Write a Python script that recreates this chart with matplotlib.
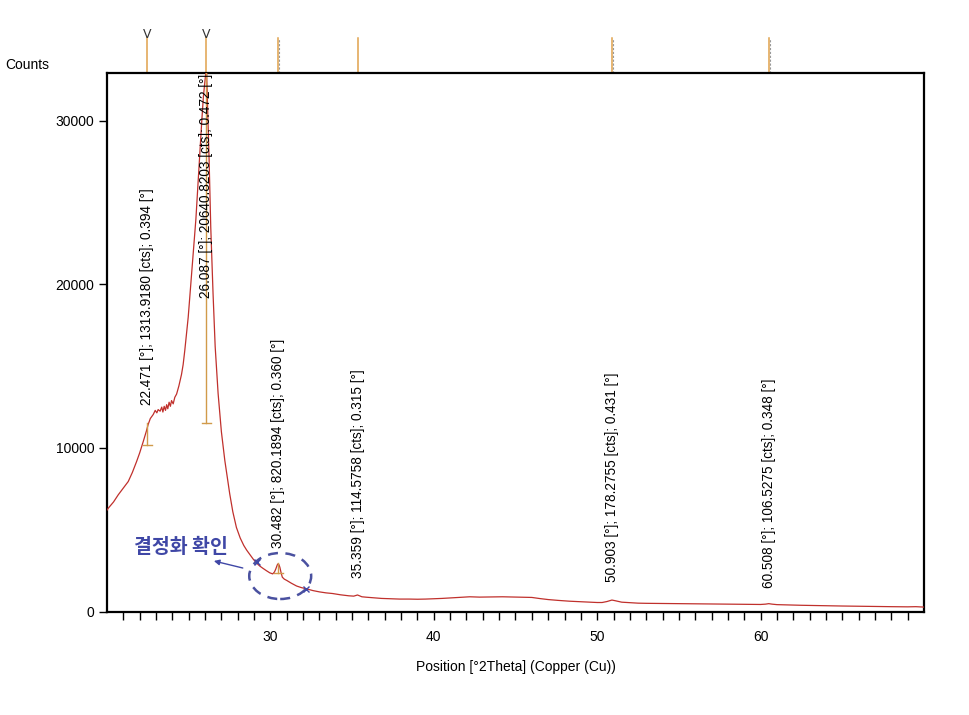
import matplotlib
matplotlib.use("Agg")
import matplotlib.pyplot as plt
from matplotlib import font_manager
from matplotlib.patches import Ellipse
import matplotlib.transforms as mtransforms

# ---------------- data ----------------
two_theta = [20.00, 20.08, 20.40, 20.69, 21.00, 21.30, 21.55, 21.81, 22.00, 22.22,
             22.40, 22.52, 22.65, 22.83, 22.95, 23.05, 23.13, 23.25, 23.35, 23.42,
             23.50, 23.58, 23.65, 23.72, 23.80, 23.88, 23.95, 24.05, 24.15, 24.26,
             24.40, 24.56, 24.66, 24.76, 24.87, 24.97, 25.08, 25.19, 25.31, 25.44,
             25.56, 25.68, 25.80, 25.90, 26.02, 26.09, 26.17, 26.25, 26.35, 26.49,
             26.62, 26.80, 27.00, 27.21, 27.35, 27.51, 27.70, 27.92, 28.15, 28.37,
             28.55, 28.73, 28.95, 29.16, 29.35, 29.53, 29.75, 29.96, 30.14, 30.25,
             30.33, 30.42, 30.47, 30.53, 30.58, 30.66, 30.73, 30.85, 31.00, 31.28,
             31.60, 31.90, 32.20, 32.60, 33.00, 33.40, 33.80, 34.30, 34.80, 35.10,
             35.33, 35.45, 35.60, 35.86, 36.30, 36.80, 37.30, 37.90, 38.50, 39.00,
             39.50, 40.00, 40.50, 41.00, 41.60, 42.20, 42.80, 43.50, 44.20, 45.00,
             45.50, 46.00, 46.50, 47.00, 47.60, 48.30, 48.90, 49.50, 50.00, 50.30,
             50.60, 50.90, 51.10, 51.50, 52.00, 52.50, 53.00, 54.00, 55.00, 56.00,
             57.00, 58.00, 59.00, 60.00, 60.30, 60.50, 60.70, 61.00, 62.00, 62.50,
             63.00, 64.00, 65.00, 66.00, 67.00, 68.00, 69.00, 69.50, 70.00]
counts = [6200, 6320, 6700, 7140, 7550, 7950, 8500, 9170, 9700, 10400,
          11000, 11440, 11800, 12050, 12300, 12150, 12350, 12250, 12500, 12200,
          12550, 12300, 12650, 12400, 12800, 12550, 12900, 12700, 13100, 13300,
          13800, 14500, 15100, 15960, 17000, 18000, 19400, 20800, 22400, 24000,
          26000, 28000, 30000, 31500, 32700, 33200, 30500, 27580, 23500, 19450,
          16200, 13330, 11000, 9240, 8300, 7200, 6100, 5140, 4500, 4040,
          3750, 3500, 3200, 2955, 2780, 2650, 2500, 2366, 2300, 2420,
          2600, 2850, 2917, 2850, 2700, 2350, 2098, 1980, 1900, 1731,
          1560, 1460, 1388, 1280, 1200, 1140, 1100, 1020, 960, 940,
          1010, 960, 900, 875, 840, 800, 780, 760, 760, 750,
          760, 780, 800, 830, 860, 900, 880, 890, 900, 880,
          870, 860, 790, 730, 680, 630, 600, 570, 550, 550,
          610, 700, 660, 570, 540, 510, 500, 490, 480, 470,
          460, 450, 440, 430, 450, 480, 450, 420, 390, 380,
          370, 350, 335, 320, 305, 295, 285, 295, 270]

peak_pos = [22.471, 26.087, 30.482, 35.359, 50.903, 60.508]
peak_labels = ["22.471 [°]; 1313.9180 [cts]; 0.394 [°]",
               "26.087 [°]; 20640.8203 [cts]; 0.472 [°]",
               "30.482 [°]; 820.1894 [cts]; 0.360 [°]",
               "35.359 [°]; 114.5758 [cts]; 0.315 [°]",
               "50.903 [°]; 178.2755 [cts]; 0.431 [°]",
               "60.508 [°]; 106.5275 [cts]; 0.348 [°]"]
label_base = [12630, 19170, 3880, 2050, 1800, 1440]
marker_dashed = [False, False, True, False, True, True]
marker_v = [True, True, False, False, False, False]

bar_pos = [22.471, 26.087, 30.482]
bar_top = [11530, 32935, 2950]
bar_bottom = [10180, 11500, 2355]

y_ticks = [0, 10000, 20000, 30000]
x_ticks = [30, 40, 50, 60]
note_text = "결정화 확인"

# ---------------- fonts ----------------
avail = {f.name for f in font_manager.fontManager.ttflist}
narrow = "Liberation Sans Narrow" if "Liberation Sans Narrow" in avail else "Liberation Sans"
plt.rcParams['font.family'] = [narrow, 'DejaVu Sans']

# ---------------- figure ----------------
fig = plt.figure(figsize=(9.7, 7.15), dpi=100)
ax = fig.add_axes([107 / 970, 1 - 611.5 / 715, (924 - 107) / 970, (611.5 - 73) / 715])
ax.set_xlim(20, 70)
ax.set_ylim(0, 32935)

ax.plot(two_theta, counts, color='#C0302C', lw=0.9, zorder=3)

for s in ax.spines.values():
    s.set_linewidth(1.6)
    s.set_color('black')

ax.set_xticks(x_ticks)
ax.set_xticks(range(21, 70), minor=True)
ax.set_yticks(y_ticks)
ax.tick_params(axis='both', which='major', direction='out', length=6, width=1,
               labelsize=10, colors='black')
ax.tick_params(axis='x', which='minor', direction='out', length=6, width=1)
ax.tick_params(axis='x', which='major', pad=7)
ax.tick_params(axis='y', which='major', pad=3)
ax.set_xlabel("Position [°2Theta] (Copper (Cu))", fontsize=10, labelpad=12)
fig.text(5 / 970, 1 - 65 / 715, "Counts", fontsize=10, ha='left', va='center')

# peak bars
for x, t, b in zip(bar_pos, bar_top, bar_bottom):
    ax.plot([x, x], [b, t], color='#D19A4A', lw=1, zorder=4)
    ax.plot([x - 0.28, x + 0.28], [b, b], color='#D19A4A', lw=1, zorder=4)

# peak labels
for x, lab, yb in zip(peak_pos, peak_labels, label_base):
    ax.text(x, yb, lab, rotation=90, ha='center', va='bottom', fontsize=9.8,
            family=['Liberation Sans', 'DejaVu Sans'], color='black', zorder=5)

# top reference markers
trans = mtransforms.blended_transform_factory(ax.transData, ax.transAxes)
top = 1 + 35 / 538.5
for x, d, v in zip(peak_pos, marker_dashed, marker_v):
    ax.plot([x, x], [1.0, top], transform=trans, color='#E0A24C', lw=1.1, clip_on=False)
    if d:
        ax.plot([x + 0.07, x + 0.07], [1.0, top], transform=trans, color='#999999',
                lw=0.8, ls=(0, (2, 1.5)), clip_on=False)
    if v:
        ax.text(x, top - 0.006, "V", transform=trans, ha='center', va='bottom',
                fontsize=9, color='#333333', family=['DejaVu Sans'])

# annotation: dashed ellipse, arrow, Korean text
ell = Ellipse((30.6, 2170), width=3.79, height=2813, fill=False, edgecolor='#4A51A0',
              lw=1.8, ls=(0, (4, 3)), zorder=6)
ax.add_patch(ell)
ax.plot([29.16, 32.16], [3030, 1376], ls='none', marker='x', ms=4, mew=1,
        color='#3F47A6', zorder=7)
ax.annotate("", xy=(26.54, 3090), xytext=(28.31, 2660),
            arrowprops=dict(arrowstyle='-|>', color='#3F47A6', lw=1,
                            mutation_scale=8, shrinkA=0, shrinkB=0), zorder=7)
ax.text(24.52, 3914, note_text, ha='center', va='center', fontsize=14,
        fontweight='bold', color='#3F47A6',
        family=['Noto Sans CJK KR', 'DejaVu Sans'], zorder=7)

fig.savefig("out.png", dpi=100)
